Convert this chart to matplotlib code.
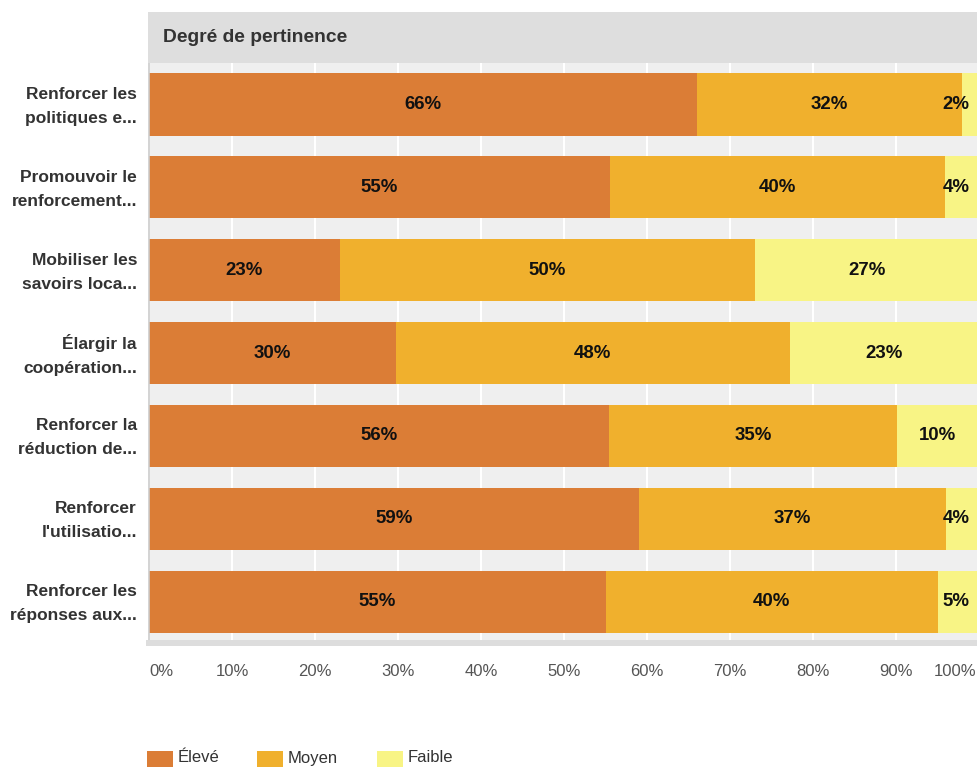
import matplotlib
matplotlib.use('Agg')
import matplotlib.pyplot as plt
from matplotlib.patches import Rectangle
import numpy as np

# Données
categories = [
    "Renforcer les\npolitiques e...",
    "Promouvoir le\nrenforcement...",
    "Mobiliser les\nsavoirs loca...",
    "Élargir la\ncoopération...",
    "Renforcer la\nréduction de...",
    "Renforcer\nl'utilisatio...",
    "Renforcer les\nréponses aux...",
]
eleve = [66, 55, 23, 30, 56, 59, 55]
moyen = [32, 40, 50, 48, 35, 37, 40]
faible = [2, 4, 27, 23, 10, 4, 5]
series_names = ['Élevé', 'Moyen', 'Faible']
couleurs = ['#db7d36', '#f0b02d', '#f8f485']
titre = 'Degré de pertinence'


def main():
    plt.rcParams['font.family'] = ['Liberation Sans', 'DejaVu Sans']
    W, H = 977, 767
    fig = plt.figure(figsize=(W / 100, H / 100), dpi=100)

    # zone du graphique (pixels -> fraction de figure)
    x0, x1 = 149, 979
    y_top, y_bot = 63, 643
    ax = fig.add_axes([x0 / W, 1 - y_bot / H, (x1 - x0) / W, (y_bot - y_top) / H])
    ax.set_facecolor('#efefef')

    # bandeau de titre
    fig.patches.append(Rectangle(((x0 - 1) / W, 1 - y_top / H), 1, (y_top - 12) / H,
                                 transform=fig.transFigure, facecolor='#dedede',
                                 edgecolor='none', zorder=0))
    fig.text(163 / W, 1 - 37 / H, titre, fontsize=13.9, fontweight='bold',
             color='#333333', va='center', ha='left')

    data = np.array([eleve, moyen, faible], dtype=float)
    # chaque ligne ramenée à 100 %
    parts = data / data.sum(axis=0) * 100
    y = np.arange(len(categories))
    left = np.zeros(len(categories))
    for k in range(3):
        ax.barh(y, parts[k], left=left, height=0.75, color=couleurs[k],
                label=series_names[k], zorder=2)
        for i in range(len(categories)):
            centre = left[i] + parts[k][i] / 2
            lab = f"{int(data[k][i])}%"
            # étiquette gardée dans la zone visible
            if centre > 96.5:
                ax.text(98.9, y[i], lab, ha='right', va='center', fontsize=13.4,
                        fontweight='bold', color='#111111', zorder=3)
            else:
                ax.text(centre, y[i], lab, ha='center', va='center', fontsize=13.4,
                        fontweight='bold', color='#111111', zorder=3)
        left += parts[k]

    ax.set_xlim(0, 100)
    ax.set_ylim(len(categories) - 0.5, -0.5)
    ticks = np.arange(0, 101, 10)
    ax.set_xticks(ticks)
    # le dernier libellé est posé à part pour rester dans l'image
    ax.set_xticklabels([f"{v}%" for v in ticks[:-1]] + [''], fontsize=12, color='#555555')
    ax.get_xticklabels()[0].set_ha('left')
    ax.annotate(f"{ticks[-1]}%", xy=(ticks[-1], 0), xycoords=('data', 'axes fraction'),
                xytext=(-3, -29), textcoords='offset pixels', ha='right', va='center',
                fontsize=12, color='#555555', annotation_clip=False)

    # libellés des catégories à gauche
    ax.set_yticks(y)
    ax.set_yticklabels([])
    for i, cat in enumerate(categories):
        ax.annotate(cat, xy=(0, y[i]), xycoords=('axes fraction', 'data'),
                    xytext=(-12, -2), textcoords='offset pixels', ha='right', va='center',
                    fontsize=12.5, fontweight='bold', color='#333333',
                    linespacing=1.75, annotation_clip=False)
    ax.tick_params(axis='x', length=0, pad=15)
    ax.tick_params(axis='y', length=0)
    ax.grid(axis='x', color='white', linewidth=1.5, zorder=1)
    ax.set_axisbelow(True)

    for s in ['top', 'right']:
        ax.spines[s].set_visible(False)
    ax.spines['left'].set_color('#cccccc')
    ax.spines['left'].set_linewidth(1.2)
    ax.spines['bottom'].set_color('#dddddd')
    ax.spines['bottom'].set_linewidth(4.3)

    # légende en bas, carrés coupés par le bord comme sur l'original
    pos = [147, 257, 377]
    for nom, c, px in zip(series_names, couleurs, pos):
        fig.patches.append(Rectangle((px / W, 1 - 777 / H), 26 / W, 26 / H,
                                     transform=fig.transFigure, facecolor=c,
                                     edgecolor='none'))
        fig.text((px + 31) / W, 1 - 758 / H, nom, fontsize=12, color='#333333',
                 va='center', ha='left')

    fig.savefig('out.png', dpi=100)


if __name__ == '__main__':
    main()
